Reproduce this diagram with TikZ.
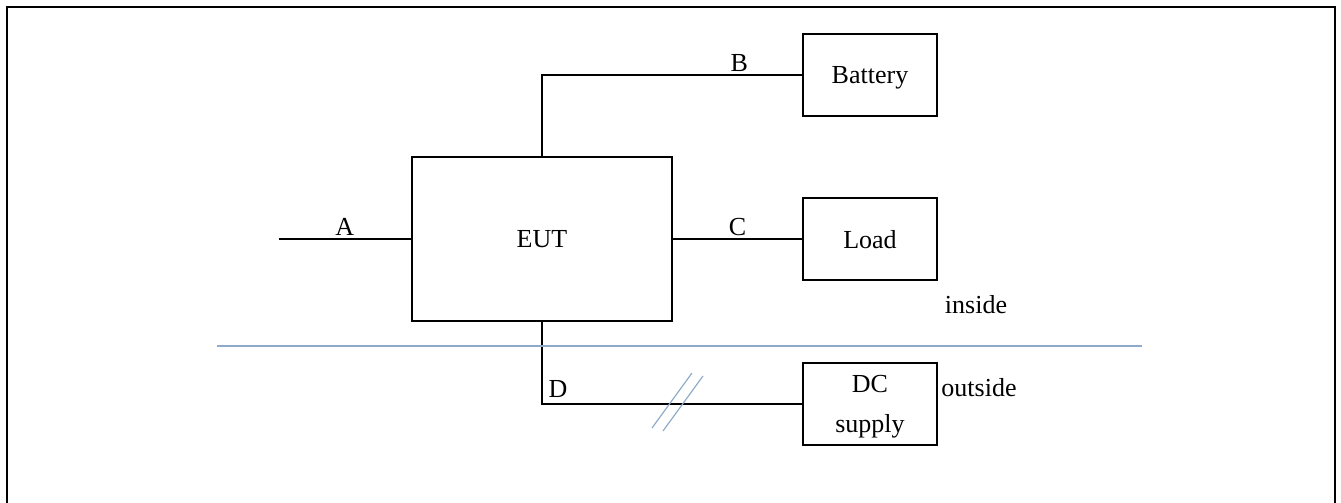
\documentclass[tikz,border=0pt]{standalone}
\usepackage{fontspec}
\setmainfont{Liberation Serif}
\usepackage{tikz}
\definecolor{AzulLimite}{RGB}{143,170,200}

\begin{document}
\begin{tikzpicture}[x=0.5pt,y=-0.5pt,
  caja/.style={draw,line width=1.3pt,minimum width=67pt,minimum height=41pt,inner sep=0pt,text depth=0pt},
  cable/.style={line width=0.6pt},
  etiqueta/.style={inner sep=1.5pt},
  font=\fontsize{13}{20}\selectfont]
  \useasboundingbox (0,0) rectangle (1341,503);
  \draw[line width=1.2pt] (7,503)--(7,7)--(1335,7)--(1335,503);
  \node[caja,minimum width=130pt,minimum height=82pt] (eut) at (542,239) {EUT};
  \node[caja] (bat) at (870,75) {Battery};
  \node[caja] (load) at (870,239) {Load};
  \node[caja,align=center] (dc) at (870,404) {DC\\supply};
  \coordinate (entrada) at (279,239);
  \draw[cable] (entrada)--(eut.west) node[midway,above,etiqueta] {A};
  \draw[cable] (eut.north) |- (bat.west) node[pos=0.88,above,etiqueta] {B};
  \draw[cable] (eut.east)--(load.west) node[midway,above,etiqueta] {C};
  \draw[cable] (eut.south) |- (dc.west) node[pos=0.5,anchor=south west,inner sep=3pt] {D};
  \draw[AzulLimite,line width=1pt] (217,346)--(1142,346);
  \draw[AzulLimite,line width=0.6pt] (652,428)--(692,373) (663,431)--(703,376);
  \node (dentro) at (976,305) {inside};
  \node (fuera) at (979,388) {outside};
\end{tikzpicture}
\end{document}
